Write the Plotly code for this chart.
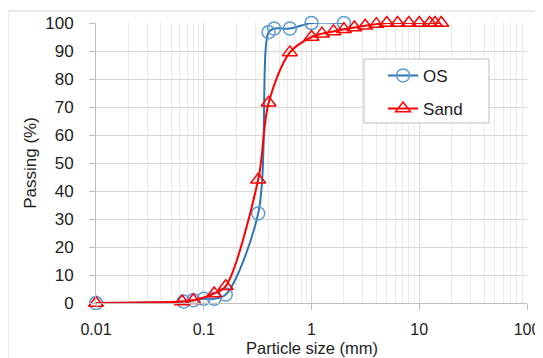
import plotly.graph_objects as go

os_size = [0.01, 0.065, 0.08, 0.1, 0.125, 0.16, 0.32, 0.4, 0.45, 0.63, 1.0, 2.0]
os_pass = [0, 0.5, 1, 1.5, 1.5, 3, 32, 96.7, 98, 98, 100, 100]

sand_size = [0.01, 0.063, 0.08, 0.125, 0.16, 0.32, 0.4, 0.63, 1.0, 1.25, 1.6, 2.0, 2.5,
             3.15, 4.0, 5.0, 6.3, 8.0, 10.0, 12.5, 14.0, 16.0]
sand_pass = [0, 0.5, 1, 3.4, 6, 44, 71.5, 89.5, 95, 96.2, 97, 97.8, 98.4,
             99, 99.6, 100, 100, 100, 100, 100, 100, 100]

x_tickvals = [0.01, 0.1, 1, 10, 100]
x_ticktext = ["0.01", "0.1", "1", "10", "100"]
y_tickvals = [0, 10, 20, 30, 40, 50, 60, 70, 80, 90, 100]

FONT = "Liberation Sans"
fig = go.Figure()
fig.add_trace(go.Scatter(
    x=os_size, y=os_pass, name="OS", mode="lines+markers", legendgroup="a", cliponaxis=False,
    line=dict(color="#2e75b6", width=2, shape="spline", smoothing=0.9),
    marker=dict(symbol="circle-open", size=13, color="#5b9bd5", line=dict(width=1.5, color="#5b9bd5")),
))
fig.add_trace(go.Scatter(
    x=sand_size, y=sand_pass, name="Sand", mode="lines+markers", legendgroup="b", cliponaxis=False,
    line=dict(color="#ff0000", width=2, shape="spline", smoothing=0.9),
    marker=dict(symbol="triangle-up-open", size=13, color="#ff0000", line=dict(width=1.5, color="#ff0000")),
))

fig.update_layout(
    width=543, height=358,
    margin=dict(l=88, r=24, t=15, b=63, autoexpand=False),
    paper_bgcolor="white", plot_bgcolor="white",
    font=dict(family=FONT, size=17, color="#222222"),
    showlegend=True,
    legend=dict(x=0.666, y=0.8755, xanchor="left", yanchor="top",
                borderwidth=0, bgcolor="rgba(0,0,0,0)",
                font=dict(size=17), tracegroupgap=8),
    xaxis=dict(type="log", range=[-2, 2], tickvals=x_tickvals, ticktext=x_ticktext,
               automargin=False, tickfont=dict(size=16),
               showgrid=True, gridcolor="#d9d9d9", gridwidth=1,
               showline=True, linecolor="#bfbfbf", linewidth=1,
               ticks="outside", ticklen=6, tickcolor="#bfbfbf",
               ticklabelstandoff=6,
               minor=dict(dtick="D1", showgrid=True, gridcolor="#ebebeb", ticks=""),
               zeroline=False),
    yaxis=dict(range=[0, 100], tickvals=y_tickvals,
               automargin=False, tickfont=dict(size=17),
               showgrid=True, gridcolor="#d9d9d9", gridwidth=1,
               showline=True, linecolor="#bfbfbf", linewidth=1,
               ticks="outside", ticklen=6, tickcolor="#bfbfbf",
               ticklabelstandoff=12,
               title=dict(text="Passing (%)", standoff=4, font=dict(size=17)),
               zeroline=False),
    annotations=[dict(text="Particle size (mm)", xref="paper", yref="paper",
                      x=0.5, y=-0.1605, xanchor="center", yanchor="middle",
                      showarrow=False, font=dict(size=16.5))],
    shapes=[
        dict(type="rect", xref="paper", yref="paper",
             x0=-0.2042, x1=1.2, y0=-0.3, y1=1.0429,
             line=dict(color="#d9d9d9", width=1), layer="below"),
        dict(type="rect", xref="paper", yref="paper",
             x0=0.6218, x1=0.9118, y0=0.643, y1=0.8714,
             line=dict(color="#bfbfbf", width=1), fillcolor="white", layer="above"),
    ],
)

fig.write_html("out.html")
